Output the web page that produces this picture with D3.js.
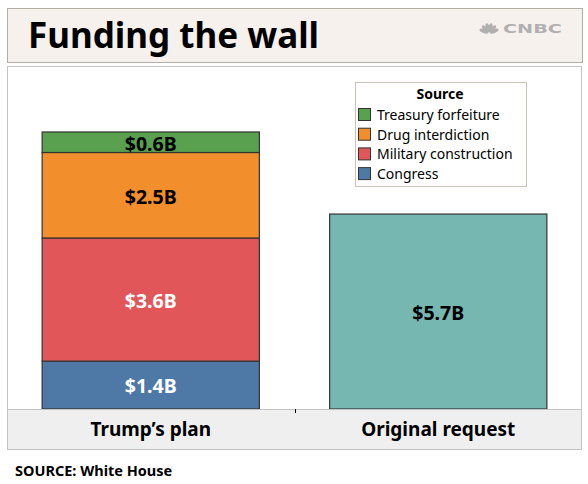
<!DOCTYPE html>
<html><head><meta charset="utf-8">
<script src="https://cdn.jsdelivr.net/npm/d3@7"></script>
<style>body{margin:0;background:#fff;}svg{display:block;font-family:"Noto Sans","Open Sans",sans-serif;}</style>
</head><body>
<svg id="c" width="588" height="484"></svg>
<script>
const categories = ["Trump\u2019s plan", "Original request"];
const seriesNames = ["Congress", "Military construction", "Drug interdiction", "Treasury forfeiture"];
const trumpValues = [1.4, 3.6, 2.5, 0.6];
const trumpLabels = ["$1.4B", "$3.6B", "$2.5B", "$0.6B"];
const originalValues = [5.7];
const originalLabels = ["$5.7B"];
const seriesColors = ["#4e79a7", "#e15759", "#f28e2b", "#59a14f"];
const labelColors = ["#ffffff", "#ffffff", "#000000", "#000000"];
const originalColor = "#76b7b2";
const legendOrder = ["Treasury forfeiture", "Drug interdiction", "Military construction", "Congress"];

const svg = d3.select("#c");

// Title box
svg.append("rect").attr("x",7.5).attr("y",8.5).attr("width",575).attr("height",54)
  .attr("fill","#f6f1ed").attr("stroke","#b3ada5");
svg.append("text").attr("x",28).attr("y",48).attr("font-size",35).attr("font-weight","bold")
  .attr("fill","#000").text("Funding the wall");

// CNBC logo
const logo = svg.append("g").attr("transform","translate(489,33)").attr("fill","#b0b0b0");
[-70,-42,-14,14,42,70].forEach(a=>{
  logo.append("ellipse").attr("cx",0).attr("cy",-5.5).attr("rx",1.9).attr("ry",4.6)
    .attr("transform",`rotate(${a})`);
});
svg.append("text").attr("x",503).attr("y",32.5).attr("font-size",11.5).attr("font-weight","bold")
  .attr("font-family","DejaVu Sans").attr("fill","#b0b0b0")
  .attr("textLength",59).attr("lengthAdjust","spacingAndGlyphs").text("CNBC");

// Panel
const left = 7, right = 582, plotTop = 66, plotBottom = 409, bandBottom = 450;
svg.append("rect").attr("x",left+0.5).attr("y",plotTop+0.5).attr("width",right-left-1).attr("height",bandBottom-plotTop-1)
  .attr("fill","#fff").attr("stroke","#c4c4c4");
svg.append("rect").attr("x",left+0.5).attr("y",plotBottom+0.5).attr("width",right-left-1).attr("height",bandBottom-plotBottom-1)
  .attr("fill","#efefef").attr("stroke","#c4c4c4");

const x = d3.scaleBand().domain(categories).range([left, right]).paddingInner(0.2444).paddingOuter(0.1222);
const y = d3.scaleLinear().domain([0, 10]).range([plotBottom, plotTop+1]);

// Stacked bar
const stackData = [Object.fromEntries(seriesNames.map((s,i)=>[s,trumpValues[i]]))];
const stacked = d3.stack().keys(seriesNames)(stackData);
const g = svg.append("g");
stacked.forEach((layer,i)=>{
  const d = layer[0];
  g.append("rect").attr("x",x(categories[0])).attr("width",x.bandwidth())
    .attr("y",y(d[1])).attr("height",y(d[0])-y(d[1]))
    .attr("fill",seriesColors[i]).attr("stroke","#333").attr("stroke-width",1.2);
});
stacked.forEach((layer,i)=>{
  const d = layer[0];
  g.append("text").attr("x",x(categories[0])+x.bandwidth()/2).attr("y",(y(d[0])+y(d[1]))/2+1.5)
    .attr("dy","0.35em").attr("text-anchor","middle").attr("font-size",19.5).attr("font-weight","bold")
    .attr("fill",labelColors[i]).text(trumpLabels[i]);
});
// Original bar
g.append("rect").attr("x",x(categories[1])).attr("width",x.bandwidth())
  .attr("y",y(originalValues[0])).attr("height",y(0)-y(originalValues[0]))
  .attr("fill",originalColor).attr("stroke","#333").attr("stroke-width",1.2);
g.append("text").attr("x",x(categories[1])+x.bandwidth()/2).attr("y",(y(0)+y(originalValues[0]))/2+1.5)
  .attr("dy","0.35em").attr("text-anchor","middle").attr("font-size",19.5).attr("font-weight","bold")
  .attr("fill","#000").text(originalLabels[0]);

// Axis line & tick
svg.append("line").attr("x1",left).attr("x2",right).attr("y1",plotBottom+0.5).attr("y2",plotBottom+0.5).attr("stroke","#c4c4c4");
svg.append("line").attr("x1",295.5).attr("x2",295.5).attr("y1",plotBottom).attr("y2",plotBottom+4).attr("stroke","#000");

// Category labels
categories.forEach(c=>{
  svg.append("text").attr("x",x(c)+x.bandwidth()/2).attr("y",436).attr("text-anchor","middle")
    .attr("font-size",19).attr("font-weight","bold").attr("fill","#000").text(c);
});

// Legend
const lg = svg.append("g");
lg.append("rect").attr("x",355.5).attr("y",82.5).attr("width",171).attr("height",104)
  .attr("fill","#fff").attr("stroke","#c8c2b8");
lg.append("text").attr("x",440).attr("y",99).attr("text-anchor","middle").attr("font-size",14)
  .attr("font-weight","bold").text("Source");
legendOrder.forEach((name,i)=>{
  const idx = seriesNames.indexOf(name);
  const cy = 115 + i*19.7;
  lg.append("rect").attr("x",358.5).attr("y",cy-6.5).attr("width",12).attr("height",12)
    .attr("fill",seriesColors[idx]).attr("stroke","#333");
  lg.append("text").attr("x",377).attr("y",cy).attr("dy","0.35em").attr("font-size",14)
    .attr("fill","#000").text(name);
});

// Source
svg.append("text").attr("x",15).attr("y",476).attr("font-size",14.5).attr("font-weight","bold")
  .text("SOURCE: White House");
</script>
</body></html>
